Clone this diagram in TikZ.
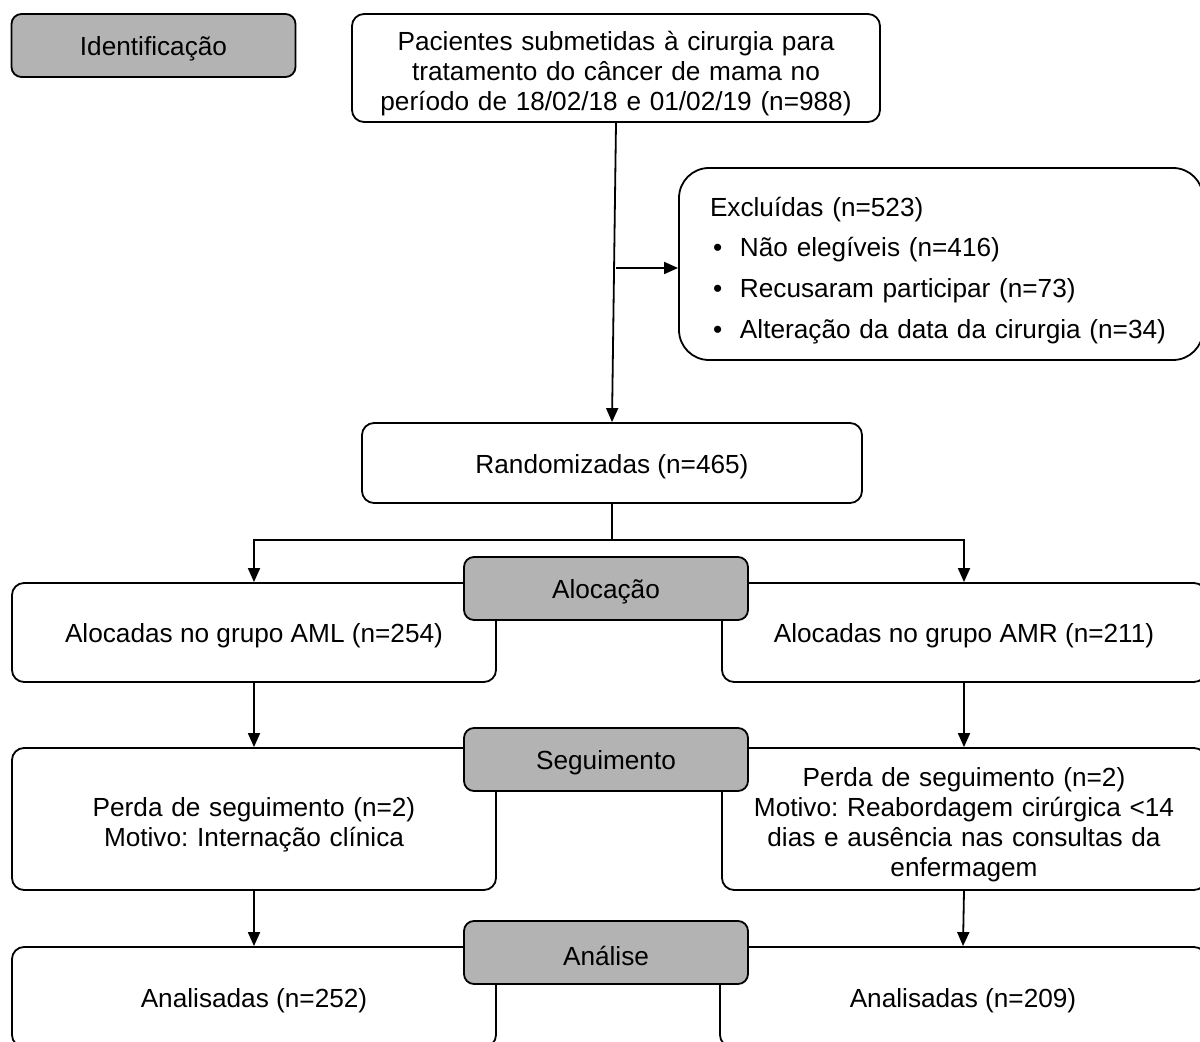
\documentclass[tikz,border=0pt]{standalone}
\usepackage{fontspec}
\setmainfont{Liberation Sans}
\usetikzlibrary{arrows.meta}
\frenchspacing

\definecolor{stagegray}{RGB}{179,179,179}
\newcommand{\flowfont}{\fontsize{13.1}{15}\selectfont}

\tikzset{
	lift/.style={execute at begin node={\rule{0pt}{#1}}},
	box/.style={draw, fill=white, line width=0.9pt, rounded corners=6pt,
		inner sep=0pt, align=center, font=\flowfont, lift=13.2pt},
	stage/.style={box, fill=stagegray, rounded corners=5pt,
		minimum width=142pt, minimum height=31.5pt},
	arr/.style={line width=0.9pt, -{Triangle[length=7pt,width=6pt]}}
}

\begin{document}
\begin{tikzpicture}[x = 0.5pt, y = -0.5pt]
	\useasboundingbox (0,0) rectangle (1200,1042);
	\clip (0,0) rectangle (1200,1042);
	
	% identificacao
	\node[box, minimum width=264pt, minimum height=54pt, text width=250pt, lift=15pt] (pac) at (616,68)
		{Pacientes submetidas à cirurgia para\\tratamento do câncer de mama no\\período de 18/02/18 e 01/02/19 (n=988)};
	\node[box, rounded corners=15pt, minimum width=262pt, minimum height=96pt,
		text width=231pt, align=left, font=\fontsize{13.1}{20.3}\selectfont, lift=16pt] (excl) at (941,264)
		{Excluídas (n=523)\\
		\makebox[15pt][l]{\hspace{1.5pt}•}Não elegíveis (n=416)\\
		\makebox[15pt][l]{\hspace{1.5pt}•}Recusaram participar (n=73)\\
		\makebox[15pt][l]{\hspace{1.5pt}•}Alteração da data da cirurgia (n=34)};
	\node[box, minimum width=250pt, minimum height=40pt] (rand) at (612,463) {Randomizadas (n=465)};
	
	% alocacao
	\node[box, minimum width=242pt, minimum height=49.5pt] (aml) at (254,632.5) {Alocadas no grupo AML (n=254)};
	\node[box, minimum width=242pt, minimum height=49.5pt] (amr) at (964,632.5) {Alocadas no grupo AMR (n=211)};
	
	% seguimento
	\node[box, minimum width=242pt, minimum height=71pt, text width=230pt, lift=15pt] (segl) at (254,819)
		{Perda de seguimento (n=2)\\Motivo: Internação clínica};
	\node[box, minimum width=242pt, minimum height=71pt, text width=230pt, lift=15pt] (segr) at (964,819)
		{Perda de seguimento (n=2)\\Motivo: Reabordagem cirúrgica <14\\dias e ausência nas consultas da\\enfermagem};
	
	% analise
	\node[box, minimum width=242pt, minimum height=50pt] (anl) at (254,997) {Analisadas (n=252)};
	\node[box, minimum width=243pt, minimum height=50pt] (anr) at (963,997) {Analisadas (n=209)};
	
	% setas
	\draw[arr] (pac.south) -- (rand.north);
	\draw[arr] ([yshift=-2pt]pac.south |- excl.west) -- ([yshift=-2pt]excl.west);
	\coordinate (split) at (612,540);
	\draw[line width=0.9pt] (rand.south) -- (split);
	\draw[arr] (split) -| (aml.north);
	\draw[arr] (split) -| (amr.north);
	\draw[arr] (aml.south) -- (segl.north);
	\draw[arr] (amr.south) -- (segr.north);
	\draw[arr] (segl.south) -- (anl.north);
	\draw[arr] (segr.south) -- (anr.north);
	
	% etapas
	\node[stage] (ident) at (153.5,45.5) {Identificação};
	\node[stage] (aloc) at (606,588.5) {Alocação};
	\node[stage] (segu) at (606,759.5) {Seguimento};
	\node[stage] (anal) at (606,952.5) {Análise};
\end{tikzpicture}
\end{document}
